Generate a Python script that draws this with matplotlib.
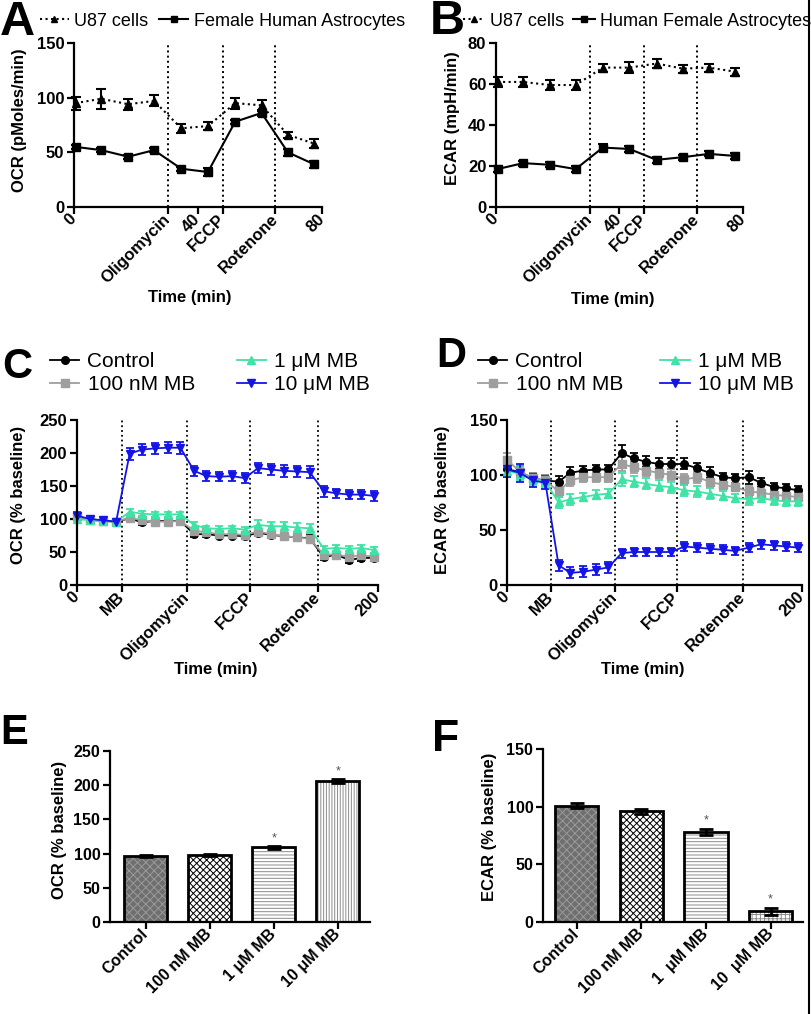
import matplotlib
matplotlib.use('Agg')
import matplotlib.pyplot as plt
from matplotlib.lines import Line2D

plt.rcParams['font.family'] = ['Liberation Sans', 'DejaVu Sans']
plt.rcParams['hatch.linewidth'] = 0.7

W, H = 812, 1014

#---- A / B : U87 vs astrocytes ----
t_ab = [0.5, 8.8, 17.5, 25.8, 34.6, 43.2, 52.0, 60.5, 69.0, 77.5]
inj_ab = [30.3, 48.0, 65.0]
inj_ab_lab = ['Oligomycin', 'FCCP', 'Rotenone']

ocr_u87 = [95, 99, 94, 97, 72, 74, 95, 93, 66, 58]
ocr_u87_err = [6, 9, 5, 5, 4, 4, 5, 5, 3, 4]
ocr_ast = [55, 52, 46, 52, 35, 32, 78, 86, 50, 39]
ocr_ast_err = [2, 2, 2, 2, 2, 4, 2, 3, 3, 3]

ecar_u87 = [61, 61, 59.5, 59.5, 68, 68, 70, 67.5, 68, 66]
ecar_u87_err = [2.5, 2.5, 2.5, 2.5, 2, 2.5, 2, 2, 2, 2]
ecar_ast = [18.5, 21.4, 20.6, 18.5, 29, 28.3, 23, 24.3, 25.9, 24.9]
ecar_ast_err = [1.5, 1.2, 1.2, 1.5, 1.5, 1.5, 1.5, 1.2, 1.2, 1.5]

#---- C / D : methylene blue time course ----
t_cd = [0, 8.7, 17.3, 26, 35, 43, 51.5, 60.3, 68.7, 77.8, 86, 94.3,
        103, 111.3, 120.3, 129, 137.3, 146.2, 154.6, 164, 172, 181, 189, 197.5]
inj_cd = [30, 73, 115, 160]
inj_cd_lab = ['MB', 'Oligomycin', 'FCCP', 'Rotenone']
groups = ['Control', '100 nM MB', '1 μM MB', '10 μM MB']

ocr_ctl = [104, 99, 97, 96, 101, 95, 97, 97, 97, 77, 77, 75, 75, 74,
           79, 76, 74, 72, 71, 42, 46, 38, 41, 41]
ocr_100n = [104, 99, 97, 96, 102, 98, 96, 96, 97, 82, 80, 77, 77, 76,
            81, 77, 74, 72, 70, 46, 46, 43, 45, 43]
ocr_1u = [100, 98, 97, 96, 111, 108, 107, 107, 107, 91, 86, 85, 86, 84,
          91, 89, 89, 87, 86, 55, 56, 55, 56, 53]
ocr_10u = [105, 100, 98, 96, 199, 205, 207, 208, 208, 173, 165, 164, 165, 162,
           177, 175, 173, 172, 171, 142, 139, 137, 137, 135]
ocr_err_small = [3, 3, 3, 3, 4, 4, 4, 4, 4, 4, 4, 4, 4, 4,
                 5, 5, 5, 5, 5, 4, 4, 4, 4, 4]
ocr_err_1u = [3, 3, 3, 3, 4, 4, 4, 4, 4, 4, 4, 4, 4, 4,
              7, 7, 7, 7, 7, 4, 4, 4, 4, 4]
ocr_err_10u = [5, 5, 4, 4, 9, 8, 8, 8, 9, 8, 7, 7, 7, 8,
               8, 9, 9, 9, 9, 8, 7, 7, 7, 8]

ecar_ctl = [105, 103, 97, 95, 94, 102, 104, 105, 105, 120, 115, 112, 110, 110,
            110, 106, 102, 98, 97, 98, 93, 89, 88, 86]
ecar_100n = [114, 103, 97, 95, 85, 95, 98, 98, 98, 110, 107, 104, 102, 100,
             96, 98, 94, 91, 89, 85, 84, 82, 81, 80]
ecar_1u = [104, 101, 96, 94, 75, 78, 80, 82, 83, 96, 94, 92, 90, 89,
           86, 85, 83, 81, 79, 78, 79, 77, 76, 76]
ecar_10u = [105, 102, 95, 93, 18, 11, 12, 14, 16, 29, 30, 30, 30, 30,
            35, 34, 33, 32, 31, 34, 37, 36, 35, 34]
ecar_err_ctl = [5, 5, 5, 5, 5, 5, 4, 4, 4, 7, 5, 5, 5, 5,
                5, 5, 5, 4, 4, 6, 4, 4, 4, 4]
ecar_err = [6, 6, 5, 5, 5, 5, 4, 4, 4, 6, 5, 5, 5, 5,
            5, 5, 5, 4, 4, 5, 4, 4, 4, 4]
ecar_err_10u = [7, 8, 6, 6, 5, 5, 5, 5, 5, 4, 4, 4, 4, 4,
                4, 4, 4, 4, 4, 4, 4, 4, 4, 4]

#---- E / F : bar summary ----
bar_lab_e = ['Control', '100 nM MB', '1 μM MB', '10 μM MB']
bar_lab_f = ['Control', '100 nM MB', '1  μM MB', '10  μM MB']
ocr_bar = [97, 98, 109, 206]
ocr_bar_err = [1.5, 2, 2, 3]
ecar_bar = [101, 96, 78, 9.5]
ecar_bar_err = [2, 2, 2.5, 3]
sig = [False, False, True, True]

colors = ['black', '#9e9e9e', '#3fe3a6', '#1414e6']
markers = ['o', 's', '^', 'v']

fig = plt.figure(figsize=(W / 100, H / 100), dpi=100)


def box(x0, y0, x1, y1):
    return [x0 / W, 1 - y1 / H, (x1 - x0) / W, (y1 - y0) / H]


def style(ax, fs=12):
    for s in ['top', 'right']:
        ax.spines[s].set_visible(False)
    for s in ['left', 'bottom']:
        ax.spines[s].set_linewidth(1.6)
    ax.tick_params(direction='out', length=5, width=1.6, labelsize=fs, pad=2)
    for lb in ax.get_xticklabels() + ax.get_yticklabels():
        lb.set_fontweight('bold')


def labels(ax, ylab, yx, yy, xlab=None, xx=None, xy=None):
    ax.set_ylabel(ylab, fontsize=12, fontweight='bold')
    ax.yaxis.set_label_coords(yx, yy)
    ax.yaxis.label.set_va('center')
    if xlab:
        ax.set_xlabel(xlab, fontsize=12, fontweight='bold')
        ax.xaxis.set_label_coords(xx, xy)
        ax.xaxis.label.set_va('center')


def time_ticks(ax, ticks, labs):
    ax.set_xticks(ticks)
    ax.set_xticklabels(labs, rotation=45, ha='right', va='center',
                       rotation_mode='anchor')


def ab_legend(ax, names, x, hl, cs):
    h = [Line2D([], [], color='k', ls=':', marker='^', ms=5, lw=1.5),
         Line2D([], [], color='k', ls='-', marker='s', ms=5, lw=1.5)]
    ax.legend(h, names, loc='center left', bbox_to_anchor=(x / W, 1 - 21 / H),
              bbox_transform=fig.transFigure, ncol=2, frameon=False,
              fontsize=13, handlelength=hl, handletextpad=0.3,
              columnspacing=cs, borderpad=0, borderaxespad=0)


def cd_legend(ax, x, cs):
    h = [Line2D([], [], color=c, marker=m, ms=5.5, lw=1.3)
         for c, m in zip(colors, markers)]
    ax.legend(h, groups, loc='center left', bbox_to_anchor=(x / W, 1 - 373 / H),
              bbox_transform=fig.transFigure, ncol=2, frameon=False,
              fontsize=15, handlelength=1.4, handletextpad=0.4,
              columnspacing=cs, labelspacing=0.2, borderpad=0,
              borderaxespad=0)


#---- A ----
axA = fig.add_axes(box(74, 43, 322, 207))
for x in inj_ab:
    axA.axvline(x, color='k', ls=':', lw=1.4)
axA.errorbar(t_ab, ocr_u87, yerr=ocr_u87_err, fmt='^:', color='k', ms=6,
             lw=1.5, capsize=3.5, capthick=1.5, elinewidth=1.5, clip_on=False)
axA.errorbar(t_ab, ocr_ast, yerr=ocr_ast_err, fmt='s-', color='k', ms=6,
             lw=1.5, capsize=3.5, capthick=1.5, elinewidth=1.5, clip_on=False)
axA.set_xlim(0, 80)
axA.set_ylim(0, 150)
axA.set_yticks([0, 50, 100, 150])
time_ticks(axA, [0, inj_ab[0], 40, inj_ab[1], inj_ab[2], 80],
           ['0', inj_ab_lab[0], '40', inj_ab_lab[1], inj_ab_lab[2], '80'])
style(axA)
labels(axA, 'OCR (pMoles/min)', -0.218, 0.53, 'Time (min)', 0.468, -0.549)
ab_legend(axA, ['U87 cells', 'Female Human Astrocytes'], 40, 1.6, 0.6)

#---- B ----
axB = fig.add_axes(box(496, 43, 743, 207))
for x in inj_ab:
    axB.axvline(x, color='k', ls=':', lw=1.4)
axB.errorbar(t_ab, ecar_u87, yerr=ecar_u87_err, fmt='^:', color='k', ms=6,
             lw=1.5, capsize=3.5, capthick=1.5, elinewidth=1.5, clip_on=False)
axB.errorbar(t_ab, ecar_ast, yerr=ecar_ast_err, fmt='s-', color='k', ms=6,
             lw=1.5, capsize=3.5, capthick=1.5, elinewidth=1.5, clip_on=False)
axB.set_xlim(0, 80)
axB.set_ylim(0, 80)
axB.set_yticks([0, 20, 40, 60, 80])
time_ticks(axB, [0, inj_ab[0], 40, inj_ab[1], inj_ab[2], 80],
           ['0', inj_ab_lab[0], '40', inj_ab_lab[1], inj_ab_lab[2], '80'])
style(axB)
labels(axB, 'ECAR (mpH/min)', -0.178, 0.543, 'Time (min)', 0.474, -0.567)
ab_legend(axB, ['U87 cells', 'Human Female Astrocytes'], 463, 1.2, 0.5)

#---- C / D ----
def time_course(ax, series, errs, ylim, yticks):
    for x in inj_cd:
        ax.axvline(x, color='k', ls=':', lw=1.3)
    for vals, err, c, m in zip(series, errs, colors, markers):
        ax.errorbar(t_cd, vals, yerr=err, fmt=m + '-', color=c, ms=5.5,
                    lw=1.3, capsize=3, capthick=1.3, elinewidth=1.3,
                    clip_on=False)
    ax.set_xlim(0, 200)
    ax.set_ylim(*ylim)
    ax.set_yticks(yticks)
    time_ticks(ax, [0] + inj_cd + [200], ['0'] + inj_cd_lab + ['200'])
    style(ax)


axC = fig.add_axes(box(77, 420, 378, 585))
time_course(axC, [ocr_ctl, ocr_100n, ocr_1u, ocr_10u],
            [ocr_err_small, ocr_err_small, ocr_err_1u, ocr_err_10u],
            (0, 250), [0, 50, 100, 150, 200, 250])
labels(axC, 'OCR (% baseline)', -0.195, 0.545, 'Time (min)', 0.462, -0.515)
cd_legend(axC, 50, 2.0)

axD = fig.add_axes(box(507, 420, 802, 585))
time_course(axD, [ecar_ctl, ecar_100n, ecar_1u, ecar_10u],
            [ecar_err_ctl, ecar_err, ecar_err, ecar_err_10u],
            (0, 150), [0, 50, 100, 150])
labels(axD, 'ECAR (% baseline)', -0.219, 0.515, 'Time (min)', 0.461, -0.515)
cd_legend(axD, 478, 1.8)

#---- E / F ----
def bars(ax, vals, errs, labs, last_hatch, ylim, yticks, star_off):
    pos = range(len(vals))
    fills = ['#6f6f6f', 'white', 'white', 'white']
    hatch_c = ['#9a9a9a', 'black', '#8c8c8c', '#8c8c8c']
    hatches = ['xxxx', 'xxxxx', '-----', last_hatch]
    for i, v in enumerate(vals):
        ax.bar(i, v, width=0.67, color=fills[i], edgecolor=hatch_c[i],
               hatch=hatches[i], lw=0)
        ax.bar(i, v, width=0.67, fill=False, edgecolor='black', lw=2)
    ax.errorbar(list(pos), vals, yerr=errs, fmt='none', ecolor='black',
                capsize=5, capthick=2, elinewidth=2)
    for i, v in enumerate(vals):
        if sig[i]:
            ax.text(i, v + errs[i] + star_off, '*', ha='center', va='bottom',
                    fontsize=9, color='#555555')
    ax.set_ylim(*ylim)
    ax.set_yticks(yticks)
    ax.set_xticks(list(pos))
    ax.set_xticklabels(labs, rotation=45, ha='right', va='center',
                       rotation_mode='anchor')
    style(ax, fs=11.5)


axE = fig.add_axes(box(110, 751, 370, 922))
bars(axE, ocr_bar, ocr_bar_err, bar_lab_e, '||||||', (0, 250),
     [0, 50, 100, 150, 200, 250], 3)
axE.set_xlim(-0.555, 3.5)
labels(axE, 'OCR (% baseline)', -0.194, 0.538)

axF = fig.add_axes(box(543, 749, 803, 922))
bars(axF, ecar_bar, ecar_bar_err, bar_lab_f, '++++', (0, 150),
     [0, 50, 100, 150], 2)
axF.set_xlim(-0.52, 3.5)
labels(axF, 'ECAR (% baseline)', -0.204, 0.549)

#---- panel letters ----
for lt, x, y, fs in [('A', 0, 35, 35), ('B', 430, 34, 35), ('C', 2, 378, 30),
                     ('D', 436, 367, 30), ('E', 0, 744, 30), ('F', 432, 751, 32)]:
    fig.text(x / W, 1 - y / H, lt, fontsize=fs, fontweight='bold',
             ha='left', va='baseline')

# right border line
fig.add_artist(Line2D([809 / W, 809 / W], [0, 1], color='black', lw=1.5,
                      transform=fig.transFigure))

fig.savefig('out.png', dpi=100)
